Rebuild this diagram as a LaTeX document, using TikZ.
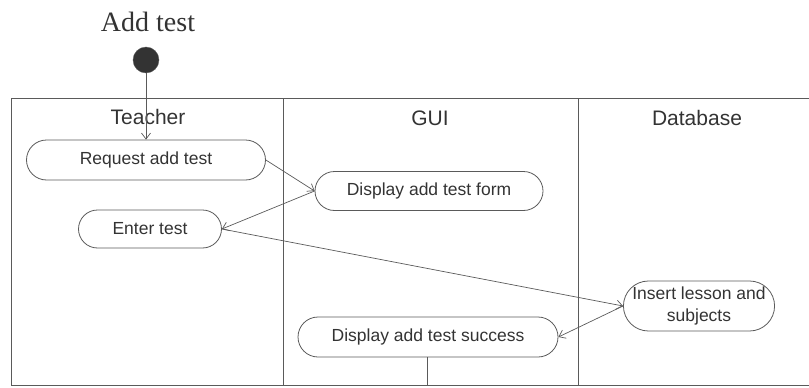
\documentclass[tikz,border=0pt]{standalone}
\usepackage{fontspec}
\setmainfont{Liberation Sans}
\newfontfamily\titlefont{Liberation Serif}
\usetikzlibrary{shapes.misc,arrows.meta}
\definecolor{ln}{HTML}{5A5A5A}
\definecolor{txt}{HTML}{333333}
\begin{document}
\begin{tikzpicture}[x=1pt,y=-1pt,
  act/.style={draw=ln, line width=0.8pt, rounded rectangle, inner sep=0pt, text=txt,
    font=\fontsize{17.5}{19}\selectfont, align=center},
  flow/.style={draw=ln, line width=0.7pt, -{Straight Barb[length=6pt,width=9pt]}},
  lane/.style={draw=ln, line width=0.7pt},
  head/.style={text=txt, font=\fontsize{21}{24}\selectfont}]
\useasboundingbox (0,0) rectangle (809,388);
% title and start
\node[text=txt, font=\titlefont\fontsize{28}{30}\selectfont] (title) at (148,22) {Add test};
\node[circle, fill=txt, draw=ln, minimum size=26pt, inner sep=0pt] (start) at (146,60) {};
% swimlanes
\draw[lane] (809,98) -- (11,98) -- (11,385) -- (809,385);
\draw[lane] (283,98) -- (283,385);
\draw[lane] (578,98) -- (578,385);
\node[head] (h1) at (148,117) {Teacher};
\node[head] (h2) at (430,118) {GUI};
\node[head] (h3) at (697,118) {Database};
% activities
\node[act, minimum width=239pt, minimum height=40pt] (req) at (146,160) {Request add test};
\node[act, minimum width=228pt, minimum height=39pt] (form) at (429,191) {Display add test form};
\node[act, minimum width=143pt, minimum height=38pt] (enter) at (150,229) {Enter test};
\node[act, minimum width=150pt, minimum height=50pt, font=\fontsize{17.5}{22}\selectfont] (ins) at (699,306) {Insert lesson and\\subjects};
\node[act, minimum width=260pt, minimum height=40pt] (succ) at (428,337) {Display add test success};
\coordinate (endp) at (427,385);
% flows
\draw[flow] (start) -- (req);
\draw[flow] (req.east) -- (form.west);
\draw[flow] (form.west) -- (enter.east);
\draw[flow] (enter.east) -- (ins.west);
\draw[flow] (ins.west) -- (succ.east);
\draw[lane] (succ.south -| endp) -- (endp);
\end{tikzpicture}
\end{document}
